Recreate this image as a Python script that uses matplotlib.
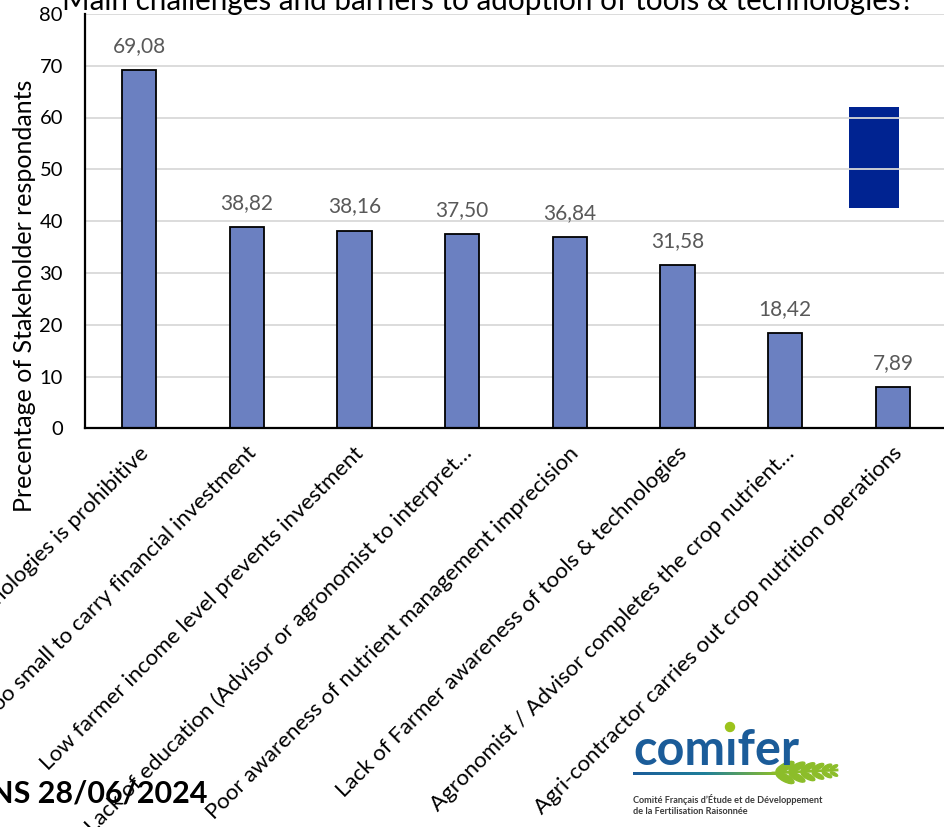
import numpy as np
import matplotlib.pyplot as plt
from matplotlib.patches import Rectangle, Ellipse, Circle
from matplotlib.colors import LinearSegmentedColormap
from matplotlib.transforms import ScaledTranslation

plt.rcParams['font.family'] = ['Lato', 'DejaVu Sans']

# survey results
barriers = [
    "Cost of tools & technologies is prohibitive",
    "Farm size too small to carry financial investment",
    "Low farmer income level prevents investment",
    "Lack of education (Advisor or agronomist to interpret\u2026",
    "Poor awareness of nutrient management imprecision",
    "Lack of Farmer awareness of tools & technologies",
    "Agronomist / Advisor completes the crop nutrient\u2026",
    "Agri-contractor carries out crop nutrition operations",
]
percent = [69.08, 38.82, 38.16, 37.50, 36.84, 31.58, 18.42, 7.89]
yticks = [0, 10, 20, 30, 40, 50, 60, 70, 80]

W, H = 945, 827
fig = plt.figure(figsize=(W / 100, H / 100), dpi=100)
ax = fig.add_axes([85.2 / W, 1 - 428.3 / H, 861.6 / W, 414.4 / H])

x = np.arange(len(barriers))
bars = ax.bar(x, percent, width=0.32, color='#6b80c1', edgecolor='black',
              linewidth=1.3, zorder=2)
for b, v in zip(bars, percent):
    ax.annotate(f"{v:.2f}".replace('.', ','), (b.get_x() + b.get_width() / 2, v),
                xytext=(0, 13), textcoords='offset points', ha='center',
                va='baseline', fontsize=15, color='#595959')

ax.set_xlim(-0.5, len(barriers) - 0.5)
ax.set_ylim(0, 80)
ax.set_yticks(yticks)
ax.tick_params(axis='y', length=0, pad=16, labelsize=14.5)
ax.tick_params(axis='x', length=0)
ax.yaxis.grid(True, color='#d9d9d9', linewidth=1.3)
ax.set_axisbelow(True)
for s in ['top', 'right']:
    ax.spines[s].set_visible(False)
for s in ['left', 'bottom']:
    ax.spines[s].set_linewidth(1.6)
ax.spines['bottom'].set_zorder(3)

ax.set_xticks(x)
ax.set_xticklabels(barriers, rotation=45, ha='right', va='center',
                   rotation_mode='anchor', fontsize=16)
shift = ScaledTranslation(6 / 100, -17 / 100, fig.dpi_scale_trans)
for lbl in ax.get_xticklabels():
    lbl.set_transform(lbl.get_transform() + shift)

# dark blue block on the right
ax.add_patch(Rectangle((0.8865, 0.5316), 0.058, 0.2444, transform=ax.transAxes,
                       facecolor='#002391', edgecolor='none', zorder=0.2))

fig.text(488 / W, 1 - 10 / H, "Main challenges and barriers to adoption of tools & technologies?",
         ha='center', va='baseline', fontsize=21.3)
fig.text(25 / W, 1 - 296 / H, "Precentage of Stakeholder respondants",
         rotation=90, ha='center', va='center', fontsize=18)
fig.text(208 / W, 1 - 803 / H, "NS 28/06/2024", ha='right', va='baseline',
         fontsize=22, fontweight='bold')

# comifer logo, drawn in pixel units
lg = fig.add_axes([625 / W, 1 - 822 / H, 220 / W, 102 / H])
lg.axis('off')
lg.text(8, 45, "com\u0131fer", fontsize=35, fontweight='bold', color='#1b5c99',
        ha='left', va='baseline')
lg.add_patch(Circle((105, 7), 4.5, color='#9cc31c'))
grad = np.linspace(0, 1, 200)[None, :]
cmap = LinearSegmentedColormap.from_list('bar', ['#1b5c99', '#1f7f9a', '#8cbd2a'])
lg.imshow(grad, cmap=cmap, extent=(8, 152, 54.5, 51.5), aspect='auto')
lg.plot([148, 212], [53, 50], color='#8cbd2a', lw=2)
for i, cx in enumerate([160, 172, 183, 193, 202, 209]):
    s = 1 - i * 0.12
    lg.add_patch(Ellipse((cx, 47), 20 * s, 7 * s, angle=-28, color='#8cbd2a'))
    lg.add_patch(Ellipse((cx, 58 - i * 0.8), 20 * s, 7 * s, angle=28, color='#8cbd2a'))
lg.set_xlim(0, 220)
lg.set_ylim(102, 0)
lg.text(8, 83, "Comit\u00e9 Fran\u00e7ais d\u2019\u00c9tude et de D\u00e9veloppement",
        fontsize=6.6, fontweight='bold', color='#3a3a3a', va='baseline')
lg.text(8, 94, "de la Fertilisation Raisonn\u00e9e",
        fontsize=6.6, fontweight='bold', color='#3a3a3a', va='baseline')

fig.savefig('out.png', dpi=100)
